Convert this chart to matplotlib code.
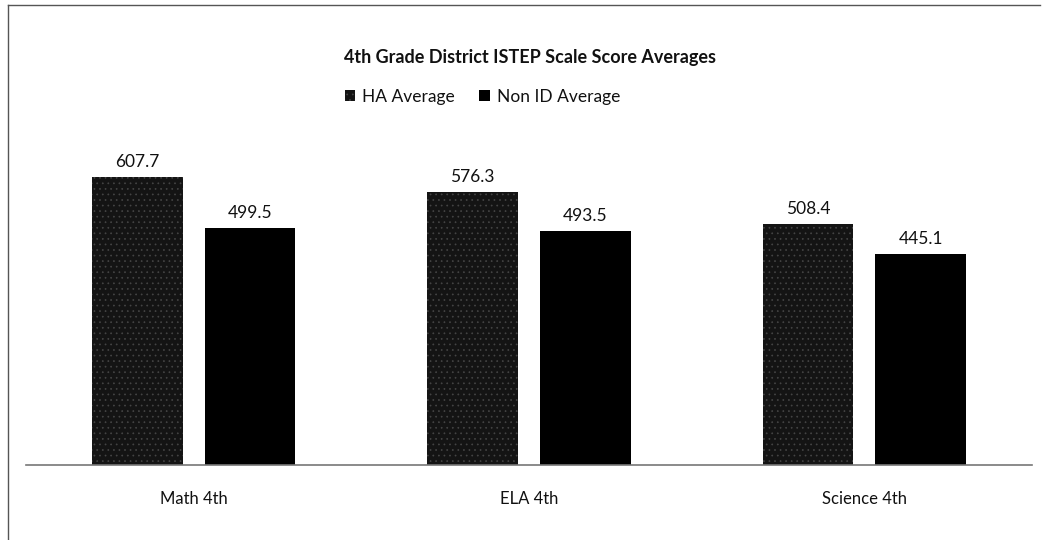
import numpy as np
import matplotlib
matplotlib.use('Agg')
import matplotlib.pyplot as plt
from matplotlib.lines import Line2D

plt.rcParams['font.family'] = ['Lato', 'DejaVu Sans']
plt.rcParams['hatch.linewidth'] = 0.5

# --- data ---
categories = ['Math 4th', 'ELA 4th', 'Science 4th']
ha_avg = [607.7, 576.3, 508.4]
non_id_avg = [499.5, 493.5, 445.1]
series_names = ['HA Average', 'Non ID Average']

fig = plt.figure(figsize=(10.44, 5.40), dpi=100)
ax = fig.add_axes([26 / 1044, 75 / 540, 1006 / 1044, 332 / 540])

x = np.arange(len(categories))
width = 0.27
off = 0.168

bars_ha = ax.bar(x - off, ha_avg, width, color='#141414', edgecolor='#454545',
                 hatch='...', linewidth=0, label=series_names[0])
bars_non = ax.bar(x + off, non_id_avg, width, color='#000000', linewidth=0,
                  label=series_names[1])

for b in list(bars_ha) + list(bars_non):
    ax.annotate('%.1f' % b.get_height(), (b.get_x() + b.get_width() / 2, b.get_height()),
                xytext=(0, 5), textcoords='offset points', ha='center', va='bottom',
                fontsize=12.5, color='#111111')

ax.set_xlim(-0.5, 2.5)
ax.set_ylim(0, 700)
ax.set_xticks(x)
ax.set_xticklabels(categories, fontsize=12, color='#111111')
ax.tick_params(axis='x', length=0, pad=19)
ax.set_yticks([])
for s in ('top', 'right', 'left'):
    ax.spines[s].set_visible(False)
ax.spines['bottom'].set_color('#777777')
ax.spines['bottom'].set_linewidth(1.2)

fig.text(530 / 1044, 1 - 58 / 540, '4th Grade District ISTEP Scale Score Averages',
         ha='center', va='center', fontsize=13, fontweight='bold', color='#111111')

leg = fig.legend(handles=[bars_ha, bars_non], labels=series_names, loc='center',
                 bbox_to_anchor=(0.462, 1 - 97 / 540), ncol=2, frameon=False,
                 fontsize=12.5, handlelength=0.6, handleheight=0.6, handletextpad=0.4,
                 columnspacing=1.4)
for t in leg.get_texts():
    t.set_color('#111111')

# chart frame (top and left edges visible in the scan)
fig.add_artist(Line2D([8 / 1044, 1040 / 1044], [1 - 5 / 540, 1 - 5 / 540],
                      transform=fig.transFigure, color='#555555', lw=1))
fig.add_artist(Line2D([8 / 1044, 8 / 1044], [1 - 5 / 540, 0],
                      transform=fig.transFigure, color='#555555', lw=1))

fig.savefig('out.png', dpi=100)
